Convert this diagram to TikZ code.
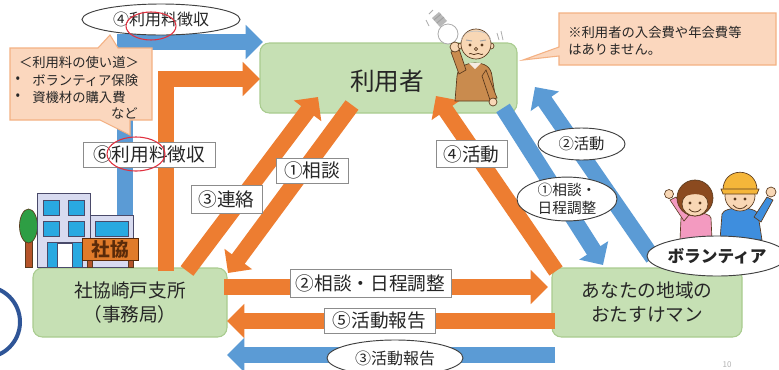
\documentclass[tikz,border=0pt]{standalone}
\usepackage{fontspec}
\setmainfont{Noto Sans CJK JP}
\usetikzlibrary{arrows.meta,shapes.geometric,calc}

\definecolor{boxgreen}{HTML}{C6E0B4}
\definecolor{boxedge}{HTML}{A9CC8F}
\definecolor{flowor}{HTML}{ED7D31}
\definecolor{flowbl}{HTML}{5B9BD5}
\definecolor{notefill}{HTML}{FBD7BE}
\definecolor{noteedge}{HTML}{F4B183}
\definecolor{ink}{HTML}{262626}
\definecolor{labedge}{HTML}{8C8C8C}
\definecolor{tagedge}{HTML}{404040}
\definecolor{ringred}{HTML}{E0303F}
\definecolor{navy}{HTML}{2F5597}
\definecolor{skin}{HTML}{F8D7B5}
\definecolor{outline}{HTML}{5A3A1E}
\definecolor{sweater}{HTML}{C98B4E}
\definecolor{hairgray}{HTML}{C4C4C4}
\definecolor{pinkshirt}{HTML}{F39AC0}
\definecolor{blueshirt}{HTML}{3E8EDE}
\definecolor{capyellow}{HTML}{F5B63A}
\definecolor{hairbrown}{HTML}{8B4A1F}
\definecolor{wall}{HTML}{D8DBF0}
\definecolor{walledge}{HTML}{4A4A6A}
\definecolor{pane}{HTML}{29A9E1}
\definecolor{signfill}{HTML}{E07B2A}
\definecolor{signtext}{HTML}{5A2B0A}
\definecolor{trunk}{HTML}{B5542A}
\definecolor{leaves}{HTML}{2E9E44}

\begin{document}
\begin{tikzpicture}[x=0.75pt,y=-0.75pt,
  box/.style={draw=boxedge, fill=boxgreen, rounded corners=7pt, line width=0.8pt,
    align=center, text=ink, inner sep=0pt},
  lab/.style={draw=labedge, fill=white, line width=0.6pt, inner sep=0pt, text=ink,
    font=\fontsize{14}{16}\selectfont},
  tag/.style={ellipse, draw=tagedge, fill=white, line width=0.7pt, inner sep=0pt,
    text=ink, align=center},
  flow/.style={line width=12pt, line cap=butt, line join=miter,
    -{Triangle[length=13pt,width=25pt]}},
  oflow/.style={flow, draw=flowor},
  bflow/.style={flow, draw=flowbl},
  note/.style={fill=notefill, draw=noteedge, line width=0.8pt},
  notetext/.style={inner sep=0pt, text=ink, font=\fontsize{10}{12}\selectfont},
  redring/.style={draw=ringred, line width=0.8pt},
  figline/.style={draw=outline, line width=0.5pt}]

\useasboundingbox (0,0) rectangle (779,369);
\clip (0,0) rectangle (779,369);
\fill[white] (0,0) rectangle (779,369);

% ---- main boxes ----
\node[box, minimum width=192.75pt, minimum height=52.5pt] (user) at (388.5,78) {};
\node[text=ink, font=\fontsize{18.5}{20}\selectfont] (usertxt) at (387,81) {利用者};
\node[box, minimum width=145.5pt, minimum height=51.75pt,
  font=\fontsize{14}{18}\selectfont] (office) at (130,302.5) {社協崎戸支所\\（事務局）};
\node[box, minimum width=142.5pt, minimum height=51.75pt,
  font=\fontsize{14}{18}\selectfont] (helper) at (647,302.5) {あなたの地域の\\おたすけマン};

% ---- arrow end points ----
\coordinate (blA) at (125,222);  \coordinate (blB) at (263,42);
\coordinate (orA) at (166,271);  \coordinate (orB) at (260,79);
\coordinate (upA) at (187,271);  \coordinate (upB) at (318,97);
\coordinate (dnA) at (352,105);  \coordinate (dnB) at (228,273);
\coordinate (acA) at (556,271);  \coordinate (acB) at (436,96);
\coordinate (bdA) at (503,108);  \coordinate (bdB) at (603,265);
\coordinate (buA) at (653,258);  \coordinate (buB) at (535,87);
\coordinate (hrA) at (224,287);  \coordinate (hrB) at (548,287);
\coordinate (hlA) at (555,321);  \coordinate (hlB) at (227,321);
\coordinate (rpA) at (555,355);  \coordinate (rpB) at (227,355);

% ---- flows ----
\draw[bflow] (blA) |- (blB);
\draw[oflow] (orA) |- (orB);
\draw[oflow] (upA) -- (upB);
\draw[oflow] (dnA) -- (dnB);
\draw[oflow] (acA) -- (acB);
\draw[bflow] (bdA) -- (bdB);
\draw[bflow] (buA) -- (buB);
\draw[oflow] (hrA) -- (hrB);
\draw[oflow] (hlA) -- (hlB);
\draw[bflow] (rpA) -- (rpB);

% ---- building of the council office ----
\draw[figline, fill=trunk] (25,236) rectangle (32,267);
\draw[figline, fill=leaves] (28.5,226) ellipse[x radius=9, y radius=17];
\draw[draw=walledge, fill=wall, line width=0.7pt] (37,193) rectangle (90,267);
\draw[draw=walledge, fill=wall, line width=0.7pt] (90,215) rectangle (133,267);
\foreach \wx/\wy in {43/200, 68/200, 43/221, 68/221}
  \draw[draw=walledge, fill=pane, line width=0.5pt] (\wx,\wy) rectangle ++(16,15);
\draw[draw=walledge, fill=pane, line width=0.5pt] (95,221) rectangle (128,236);
\draw[draw=walledge, fill=pane, line width=0.5pt] (47,242) rectangle (82,267);
\draw[draw=walledge, fill=white, line width=0.5pt] (57,243) rectangle (72,267);
\draw[figline, fill=trunk] (87,258) rectangle (92,267);
\draw[figline, fill=trunk] (128,258) rectangle (133,267);
\node[draw=signtext, fill=signfill, line width=0.6pt, inner sep=0pt,
  minimum width=42pt, minimum height=17pt, text=signtext,
  font=\fontsize{14}{14}\selectfont\bfseries] (sign) at (110,249.5) {社協};

% ---- flow labels ----
\node[lab, minimum width=99pt, minimum height=18.75pt] (fee6) at (149,154.5) {⑥利用料徴収};
\node[lab, minimum width=53.25pt, minimum height=21pt] (contact3) at (226.5,199) {③連絡};
\node[lab, minimum width=54pt, minimum height=18.75pt] (consult1) at (312,170.5) {①相談};
\node[lab, minimum width=53.25pt, minimum height=20.25pt] (activity4) at (471.5,154) {④活動};
\node[lab, minimum width=120.75pt, minimum height=21pt] (consult2) at (370.5,283) {②相談・日程調整};
\node[lab, minimum width=83.25pt, minimum height=18.75pt] (report5) at (379.5,320.5) {⑤活動報告};

\node[tag, minimum width=118.5pt, minimum height=23.25pt,
  font=\fontsize{12}{14}\selectfont] (fee4) at (161,19.5) {④利用料徴収};
\node[tag, minimum width=102pt, minimum height=27pt,
  font=\fontsize{12}{14}\selectfont] (report3) at (395,358) {③活動報告};
\node[tag, minimum width=65.25pt, minimum height=24pt,
  font=\fontsize{11.5}{13}\selectfont] (act2) at (581.5,144) {②活動};
\node[tag, minimum width=75pt, minimum height=31.5pt,
  font=\fontsize{11}{13}\selectfont] (cons1) at (567,199) {①相談・\\日程調整};

% ---- the user (elderly man holding a bulb) ----
\fill[gray!55] (432,18) -- (439,12) -- (447,21) -- (440,27) -- cycle;
\draw[gray!75, line width=0.6pt] (434,20) -- (441,14) (437,23) -- (444,17);
\draw[draw=gray!65, fill=white, line width=0.6pt] (448,34) circle[radius=10];
\draw[gray!65, line width=0.6pt] (426,20) -- (429,26) (429,14) -- (433,10);
\draw[gray!65, line width=0.6pt] (497,33) -- (499,40) (501,31) -- (503,40);
\draw[figline, fill=sweater] (455,101) -- (457,76) .. controls (458,67) and (466,63) .. (475,63)
  .. controls (485,63) and (491,67) .. (492,76) -- (496,101) -- cycle;
\fill[white!85!brown] (469,63) -- (475,69) -- (481,63) -- cycle;
\draw[figline, fill=sweater] (459,74) -- (451,52) -- (459,49) -- (466,70) -- cycle;
\draw[figline, fill=skin] (455,47) circle[radius=5];
\draw[figline, fill=sweater] (486,70) -- (497,98) -- (490,100) -- (482,76) -- cycle;
\draw[figline, fill=skin] (493,102) circle[radius=4];
\draw[figline, fill=skin] (461,46) circle[radius=3];
\draw[figline, fill=skin] (491,46) circle[radius=3];
\draw[figline, fill=skin] (476,44) circle[radius=15];
\fill[hairgray] (461,42) .. controls (460,27) and (492,27) .. (491,42)
  .. controls (489,35) and (487,33) .. (484,33) .. controls (479,31) and (472,31) .. (467,33)
  .. controls (464,34) and (462,37) .. (461,42) -- cycle;
\fill[outline] (470,45) circle[radius=1.7];
\fill[outline] (482,45) circle[radius=1.7];
\draw[gray!70, line width=0.7pt] (466,40) -- (472,41) (480,41) -- (486,40);
\draw[figline, fill=skin] (476,49) circle[radius=1.6];
\draw[figline, line width=0.6pt] (469,54) .. controls (471,52) and (473,56) .. (476,54)
  .. controls (479,52) and (481,56) .. (483,54);

% ---- volunteers ----
\draw[figline, fill=pinkshirt] (680,240) -- (681,218) .. controls (682,211) and (710,211) .. (711,218) -- (712,240) -- cycle;
\draw[figline, fill=pinkshirt] (684,221) -- (670,200) -- (676,197) -- (689,215) -- cycle;
\draw[figline, fill=skin] (669,194) circle[radius=4.5];
\draw[figline, fill=hairbrown] (695,198) circle[radius=18];
\draw[figline, fill=skin] (695,204) ellipse[x radius=13, y radius=12];
\fill[hairbrown] (681,199) .. controls (684,186) and (706,186) .. (709,199)
  .. controls (702,193) and (690,192) .. (681,199) -- cycle;
\fill[outline] (690,203) circle[radius=1.6];
\fill[outline] (700,203) circle[radius=1.6];
\draw[figline, line width=0.6pt] (689,209) .. controls (692,213) and (698,213) .. (701,209);

\draw[figline, fill=blueshirt] (720,240) -- (722,214) .. controls (724,206) and (756,206) .. (758,214) -- (762,240) -- cycle;
\draw[figline, fill=blueshirt] (754,217) -- (767,197) -- (773,200) -- (761,222) -- cycle;
\draw[figline, fill=skin] (771,192) circle[radius=5];
\draw[figline, fill=skin] (740,196) circle[radius=15];
\draw[figline, fill=capyellow] (723,191) .. controls (722,166) and (758,166) .. (757,191) -- cycle;
\draw[figline, fill=capyellow] (721,189) -- (759,189) -- (757,194) -- (723,194) -- cycle;
\fill[outline] (735,199) circle[radius=1.6];
\fill[outline] (745,199) circle[radius=1.6];
\draw[figline, line width=0.6pt] (733,205) .. controls (737,210) and (743,210) .. (747,205);

\node[tag, minimum width=82.5pt, minimum height=30pt,
  font=\fontsize{12.5}{14}\selectfont\bfseries] (vol) at (717,256) {ボランティア};

% ---- notes ----
\draw[note] (10,48) -- (98,48) -- (110,35) -- (118,48) -- (152,48) -- (152,120)
  -- (130,120) -- (130,135) -- (100,120) -- (10,120) -- cycle;
\node[notetext] (use0) at (79,62) {＜利用料の使い道＞};
\node[notetext] (use1b) at (18,80) {•};
\node[notetext, anchor=west] (use1) at (32,80) {ボランティア保険};
\node[notetext] (use2b) at (18,97) {•};
\node[notetext, anchor=west] (use2) at (32,97) {資機材の購入費};
\node[notetext, anchor=east] (use3) at (138,113) {など};

\draw[note] (559,13) -- (776,13) -- (776,65) -- (559,65) -- (559,56) -- (523,60)
  -- (559,47) -- cycle;
\node[notetext, anchor=west] (nofee1) at (568,32) {※利用者の入会費や年会費等};
\node[notetext, anchor=west] (nofee2) at (568,50) {はありません。};

% ---- red rings around the fee word ----
\draw[redring] (151,26) ellipse[x radius=25, y radius=14];
\draw[redring] (136,154) ellipse[x radius=29, y radius=17];

% ---- partial ring at the left edge and page number ----
\draw[navy, line width=3pt] (-15.6,322) circle[radius=35.6];
\node[text=gray!60, inner sep=0pt, font=\fontsize{6}{6}\selectfont] (pageno) at (727,365) {10};

\end{tikzpicture}
\end{document}
